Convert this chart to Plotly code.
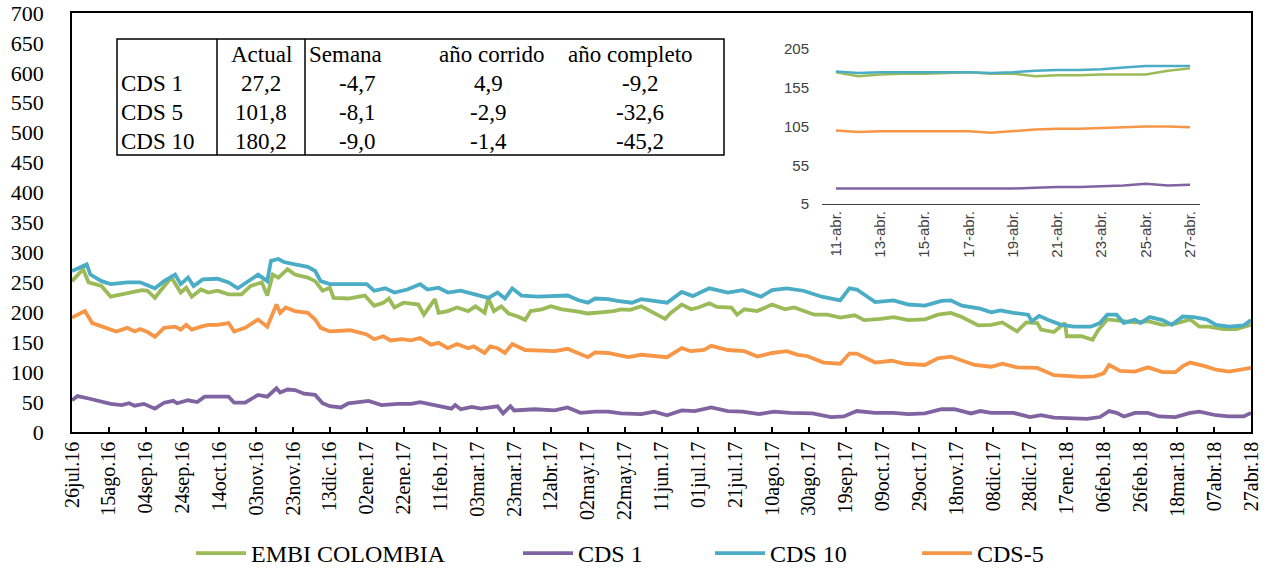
import pandas as pd
import plotly.graph_objects as go

# ---------------- data ----------------
start_date = "2016-07-26"
end_date = "2018-04-27"

tick_labels = ["26jul.16", "15ago.16", "04sep.16", "24sep.16", "14oct.16", "03nov.16",
               "23nov.16", "13dic.16", "02ene.17", "22ene.17", "11feb.17", "03mar.17",
               "23mar.17", "12abr.17", "02may.17", "22may.17", "11jun.17", "01jul.17",
               "21jul.17", "10ago.17", "30ago.17", "19sep.17", "09oct.17", "29oct.17",
               "18nov.17", "08dic.17", "28dic.17", "17ene.18", "06feb.18", "26feb.18",
               "18mar.18", "07abr.18", "27abr.18"]

# days elapsed since start_date, and values (bps)
embi_days = [0, 6, 9, 16, 21, 27, 32, 38, 41, 45, 48, 54, 59, 62, 65, 70, 74, 79, 85, 92,
             97, 103, 106, 109, 112, 117, 121, 128, 132, 136, 140, 142, 150, 159, 164, 169, 172, 175, 180, 188,
             191, 197, 199, 204, 209, 215, 219, 224, 226, 229, 233, 237, 242, 246, 249, 255, 260, 266, 273, 280,
             287, 294, 298, 303, 309, 316, 322, 325, 331, 336, 340, 346, 350, 358, 361, 365, 372, 380, 387, 392,
             398, 403, 410, 417, 425, 430, 439, 446, 454, 463, 470, 477, 483, 488, 492, 499, 505, 513, 518, 524,
             526, 533, 539, 540, 548, 554, 557, 562, 570, 577, 584, 592, 599, 607, 612, 617, 625, 632, 640]
embi_vals = [252, 272, 250, 244, 226, 230, 233, 237, 236, 224, 236, 258, 233, 241, 226, 238, 233, 236, 230, 230,
             244, 250, 228, 263, 258, 272, 263, 258, 252, 236, 241, 224, 223, 228, 211, 216, 223, 208, 216, 213,
             196, 222, 199, 202, 208, 202, 210, 199, 223, 202, 210, 198, 193, 187, 202, 205, 210, 205, 202, 198,
             200, 202, 205, 204, 210, 199, 189, 199, 213, 205, 208, 215, 209, 208, 196, 205, 202, 213, 205, 208,
             202, 196, 196, 191, 195, 187, 189, 192, 187, 188, 196, 199, 192, 185, 178, 179, 183, 168, 183, 182,
             171, 167, 182, 160, 160, 154, 170, 188, 185, 183, 185, 179, 181, 188, 176, 176, 172, 172, 179]

cds1_days = [0, 3, 9, 14, 21, 27, 31, 34, 39, 45, 50, 55, 57, 63, 68, 72, 79, 85, 88, 94,
             101, 106, 111, 113, 117, 121, 126, 132, 136, 140, 146, 150, 161, 168, 177, 184, 189, 198, 206, 208,
             211, 217, 222, 231, 234, 238, 240, 251, 262, 269, 276, 284, 291, 298, 305, 309, 316, 323, 331, 338,
             347, 356, 364, 373, 381, 390, 402, 412, 419, 426, 436, 446, 454, 463, 472, 479, 488, 493, 499, 511,
             520, 526, 533, 544, 551, 558, 563, 567, 571, 577, 584, 590, 599, 607, 612, 621, 628, 636, 640]
cds1_vals = [53, 60, 56, 52, 47, 45, 48, 44, 47, 39, 49, 52, 48, 53, 50, 59, 59, 59, 49, 49,
             62, 59, 73, 66, 71, 70, 64, 62, 48, 43, 41, 48, 52, 45, 47, 47, 50, 45, 39, 45,
             38, 42, 39, 43, 31, 43, 36, 38, 36, 41, 32, 34, 34, 31, 30, 30, 34, 28, 36, 35,
             41, 35, 34, 30, 34, 32, 31, 25, 26, 35, 32, 32, 30, 31, 38, 38, 31, 35, 32, 32,
             25, 28, 24, 22, 22, 25, 35, 32, 26, 32, 32, 26, 25, 32, 34, 28, 26, 26, 32]

cds10_days = [0, 8, 10, 16, 21, 30, 37, 45, 50, 56, 59, 63, 66, 71, 79, 85, 90, 95, 101, 106,
              108, 112, 115, 121, 128, 132, 135, 140, 150, 160, 164, 170, 175, 182, 189, 193, 199, 204, 211, 218,
              226, 231, 235, 239, 244, 253, 262, 269, 275, 280, 284, 291, 296, 304, 309, 316, 323, 331, 337, 341,
              346, 356, 364, 374, 380, 388, 397, 407, 417, 422, 426, 436, 446, 454, 463, 472, 477, 483, 488, 493,
              499, 504, 511, 519, 521, 525, 530, 537, 544, 553, 558, 562, 567, 571, 577, 580, 585, 592, 597, 603,
              609, 616, 621, 628, 636, 640]
cds10_vals = [269, 280, 263, 252, 247, 250, 250, 240, 252, 263, 247, 258, 244, 255, 256, 250, 240, 250, 263, 252,
              286, 289, 284, 280, 276, 269, 252, 247, 247, 247, 236, 240, 233, 238, 247, 238, 241, 233, 236, 230,
              224, 233, 223, 240, 228, 226, 227, 228, 220, 216, 223, 222, 219, 216, 222, 219, 216, 234, 227, 233,
              240, 233, 237, 226, 237, 240, 236, 226, 220, 240, 238, 217, 220, 213, 211, 219, 220, 211, 208, 206,
              200, 203, 199, 196, 185, 194, 187, 179, 176, 176, 182, 196, 196, 182, 188, 182, 192, 187, 179, 193,
              192, 188, 179, 176, 178, 187]

cds5_days = [0, 7, 11, 18, 24, 30, 34, 37, 41, 45, 50, 56, 59, 62, 65, 70, 74, 79, 85, 88,
             94, 101, 106, 111, 113, 116, 121, 128, 132, 135, 140, 151, 160, 164, 169, 173, 179, 184, 189, 195,
             199, 204, 209, 215, 218, 224, 227, 231, 235, 239, 246, 255, 262, 269, 275, 280, 284, 291, 296, 302,
             309, 316, 323, 331, 336, 343, 347, 356, 365, 372, 380, 388, 394, 399, 408, 417, 422, 426, 436, 445,
             452, 463, 470, 477, 483, 488, 490, 499, 505, 513, 524, 533, 540, 548, 555, 560, 563, 569, 577, 584,
             592, 599, 603, 607, 615, 621, 628, 636, 640]
cds5_vals = [191, 202, 182, 174, 168, 174, 168, 172, 167, 159, 174, 176, 171, 179, 171, 176, 179, 179, 182, 168,
             174, 188, 176, 213, 199, 208, 202, 199, 188, 174, 168, 170, 163, 155, 160, 153, 155, 153, 157, 146,
             149, 140, 147, 140, 143, 132, 143, 140, 132, 147, 137, 136, 135, 139, 132, 125, 133, 132, 129, 125,
             129, 127, 125, 140, 135, 137, 144, 137, 135, 126, 132, 135, 129, 127, 116, 114, 131, 131, 116, 119,
             114, 112, 123, 126, 119, 114, 112, 109, 114, 108, 107, 95, 93, 92, 93, 98, 112, 102, 101, 108,
             100, 100, 110, 116, 110, 104, 101, 104, 107]

# inset (last weeks)
inset_dates = ["11-abr.", "12-abr.", "13-abr.", "14-abr.", "15-abr.", "16-abr.", "17-abr.", "18-abr.",
               "19-abr.", "20-abr.", "21-abr.", "22-abr.", "23-abr.", "24-abr.", "25-abr.", "26-abr.", "27-abr."]
inset_embi = [175, 170, 172, 173, 173, 174, 175, 173, 173, 170, 171, 171, 172, 172, 172, 177, 180]
inset_cds1 = [25, 25, 25, 25, 25, 25, 25, 25, 25, 26, 27, 27, 28, 29, 31, 29, 30]
inset_cds10 = [176, 174, 175, 175, 175, 175, 175, 174, 175, 177, 178, 178, 179, 181, 183, 183, 183]
inset_cds5 = [100, 98, 99, 99, 99, 99, 99, 97, 99, 101, 102, 102, 103, 104, 105, 105, 104]
inset_ticks = [5, 55, 105, 155, 205]

# table
table_header = ["Actual", "Semana", "año corrido", "año completo"]
table_rows = ["CDS 1", "CDS 5", "CDS 10"]
table_actual = ["27,2", "101,8", "180,2"]
table_semana = ["-4,7", "-8,1", "-9,0"]
table_corrido = ["4,9", "-2,9", "-1,4"]
table_completo = ["-9,2", "-32,6", "-45,2"]

series = [
    ("EMBI COLOMBIA", embi_days, embi_vals, inset_embi, "#9BBB59"),
    ("CDS 1", cds1_days, cds1_vals, inset_cds1, "#8064A2"),
    ("CDS 10", cds10_days, cds10_vals, inset_cds10, "#4BACC6"),
    ("CDS-5", cds5_days, cds5_vals, inset_cds5, "#F79646"),
]

# ---------------- figure ----------------
W, H = 1270, 569
ML, MR, MT, MB = 72, 19, 13, 137
PW, PH = W - ML - MR, H - MT - MB


def px(x):
    return (x - ML) / PW


def py(y):
    return (H - MB - y) / PH


SERIF = "'Liberation Serif', 'Times New Roman', Times, 'DejaVu Serif', serif"
SANS = "'Liberation Sans', Arial, Helvetica, sans-serif"

fig = go.Figure()
t0 = pd.Timestamp(start_date)
legend_text_x = [251, 578, 770, 977]
for i, (name, days, vals, ivals, color) in enumerate(series):
    dates = t0 + pd.to_timedelta(days, unit="D")
    lg = "legend" if i == 0 else f"legend{i + 1}"
    fig.add_trace(go.Scatter(x=dates, y=vals, mode="lines", name=name,
                             line=dict(color=color, width=3.8), legend=lg,
                             hoverinfo="skip"))
for name, days, vals, ivals, color in series:
    fig.add_trace(go.Scatter(x=inset_dates, y=ivals, mode="lines", name=name,
                             line=dict(color=color, width=2.5), xaxis="x2", yaxis="y2",
                             showlegend=False, hoverinfo="skip"))

tick_dates = pd.date_range(start_date, periods=len(tick_labels), freq="20D")

layout_legends = {}
for i, lx in enumerate(legend_text_x):
    key = "legend" if i == 0 else f"legend{i + 1}"
    layout_legends[key] = dict(x=px(lx - 60), xanchor="left", y=py(531), yanchor="top",
                               orientation="h", font=dict(family=SERIF, size=24, color="black"),
                               bgcolor="rgba(0,0,0,0)", itemwidth=50, borderwidth=0)

fig.update_layout(
    template="none",
    width=W, height=H,
    margin=dict(l=ML, r=MR, t=MT, b=MB, autoexpand=False),
    paper_bgcolor="white", plot_bgcolor="white",
    xaxis=dict(type="date", range=[t0, pd.Timestamp(end_date)], automargin=False,
               tickvals=tick_dates, ticktext=tick_labels, tickangle=-90,
               ticks="inside", ticklen=5, tickcolor="black", tickwidth=1.5,
               showline=True, linecolor="black", linewidth=1.5, mirror=True,
               showgrid=False, zeroline=False,
               tickfont=dict(family=SERIF, size=20, color="black")),
    yaxis=dict(range=[0, 700], tickmode="linear", tick0=0, dtick=50, automargin=False,
               showline=True, linecolor="black", linewidth=1.5, mirror=True,
               showgrid=False, zeroline=False, ticks="", ticklabelstandoff=22,
               tickfont=dict(family=SERIF, size=22, color="black")),
    xaxis2=dict(type="category", categoryorder="array", categoryarray=inset_dates,
                range=[-0.63, 16.45], domain=[px(822), px(1200)], anchor="y2", automargin=False,
                tickvals=inset_dates[::2], tickangle=-90, ticks="",
                showline=True, linecolor="#404040", linewidth=1, showgrid=False, zeroline=False,
                tickfont=dict(family=SANS, size=15, color="#404040")),
    yaxis2=dict(range=[5, 205], tickvals=inset_ticks, domain=[py(204), py(49)], anchor="x2",
                automargin=False, showline=False, showgrid=False, zeroline=False, ticks="",
                ticklabelstandoff=12,
                tickfont=dict(family=SANS, size=15, color="#404040")),
    showlegend=True,
    **layout_legends,
)

# ---------------- table ----------------
shapes = []
tl, tr, tt, tb = 117, 724, 39, 155
shapes.append(dict(type="rect", xref="paper", yref="paper", x0=px(tl), x1=px(tr), y0=py(tb), y1=py(tt),
                   line=dict(color="black", width=1.5), fillcolor="white", layer="above"))
for vx in (217, 305):
    shapes.append(dict(type="line", xref="paper", yref="paper", x0=px(vx), x1=px(vx), y0=py(tb), y1=py(tt),
                       line=dict(color="black", width=1.5), layer="above"))
fig.update_layout(shapes=shapes)

ann = []
font_t = dict(family=SERIF, size=23, color="black")
row_y = [54, 83, 112, 141]
header_pos = [(261, "center"), (307, "left"), (491, "center"), (630, "center")]
for (hx, anchor), text in zip(header_pos, table_header):
    ann.append(dict(x=px(hx), y=py(row_y[0]), xref="paper", yref="paper", text=text,
                    showarrow=False, xanchor=anchor, yanchor="middle", font=font_t))
col_x = [261, 357, 488, 640]
for r, label in enumerate(table_rows):
    yy = py(row_y[r + 1])
    ann.append(dict(x=px(119), y=yy, xref="paper", yref="paper", text=label, showarrow=False,
                    xanchor="left", yanchor="middle", font=font_t))
    for cx, col in zip(col_x, (table_actual, table_semana, table_corrido, table_completo)):
        ann.append(dict(x=px(cx), y=yy, xref="paper", yref="paper", text=col[r], showarrow=False,
                        xanchor="center", yanchor="middle", font=font_t))
fig.update_layout(annotations=ann)

fig.write_html("out.html", config={"displayModeBar": False},
               post_script="document.body.style.margin='0';document.body.style.overflow='hidden';")
